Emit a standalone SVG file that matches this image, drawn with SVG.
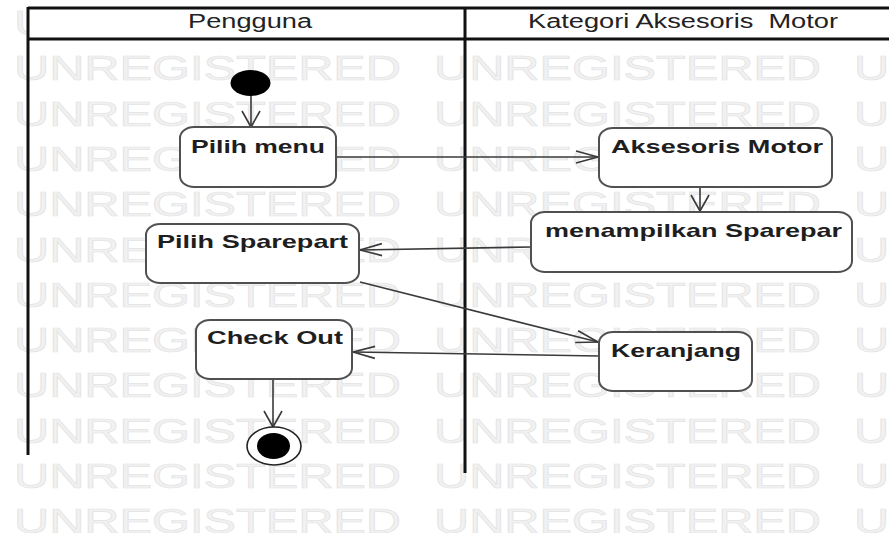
<svg xmlns="http://www.w3.org/2000/svg" xmlns:xlink="http://www.w3.org/1999/xlink" width="889" height="533" viewBox="0 0 889 533">
  <style>
    .wm { font-family: "Liberation Sans", Arial, sans-serif; font-size: 35px; fill: #f1f1f1; stroke: #e4e4e4; stroke-width: 0.7; }
    .lane { stroke: #111; stroke-width: 3; fill: none; }
    .hdr { font-family: "Liberation Sans", Arial, sans-serif; font-size: 19.5px; fill: #222; }
    .act { fill: #fff; stroke: #505050; stroke-width: 2; }
    .lbl { font-family: "Liberation Sans", Arial, sans-serif; font-size: 19px; font-weight: bold; fill: #1e1e1e; }
    .edge { stroke: #3a3a3a; stroke-width: 1.6; fill: none; }
  </style>
  <defs>
    <text id="wmword" class="wm" textLength="387" lengthAdjust="spacingAndGlyphs">UNREGISTERED</text>
    <marker id="ah" viewBox="-24 -8 26 16" refX="0" refY="0" markerWidth="26" markerHeight="16" orient="auto" markerUnits="userSpaceOnUse">
      <path d="M-22,-6 L0,0 L-22,6" fill="none" stroke="#3a3a3a" stroke-width="1.6"/>
    </marker>
    <marker id="av" viewBox="-18 -11 20 22" refX="0" refY="0" markerWidth="20" markerHeight="22" orient="auto" markerUnits="userSpaceOnUse">
      <path d="M-16,-9 L0,0 L-16,9" fill="none" stroke="#3a3a3a" stroke-width="1.6"/>
    </marker>
  </defs>

  <rect width="889" height="533" fill="#fff"/>

  <!-- watermark rows -->
  <g id="watermark">
    <use xlink:href="#wmword" x="14" y="35"/><use xlink:href="#wmword" x="434" y="35"/><use xlink:href="#wmword" x="854" y="35"/>
    <use xlink:href="#wmword" x="14" y="80.3"/><use xlink:href="#wmword" x="434" y="80.3"/><use xlink:href="#wmword" x="854" y="80.3"/>
    <use xlink:href="#wmword" x="14" y="125.6"/><use xlink:href="#wmword" x="434" y="125.6"/><use xlink:href="#wmword" x="854" y="125.6"/>
    <use xlink:href="#wmword" x="14" y="170.9"/><use xlink:href="#wmword" x="434" y="170.9"/><use xlink:href="#wmword" x="854" y="170.9"/>
    <use xlink:href="#wmword" x="14" y="216.2"/><use xlink:href="#wmword" x="434" y="216.2"/><use xlink:href="#wmword" x="854" y="216.2"/>
    <use xlink:href="#wmword" x="14" y="261.5"/><use xlink:href="#wmword" x="434" y="261.5"/><use xlink:href="#wmword" x="854" y="261.5"/>
    <use xlink:href="#wmword" x="14" y="306.8"/><use xlink:href="#wmword" x="434" y="306.8"/><use xlink:href="#wmword" x="854" y="306.8"/>
    <use xlink:href="#wmword" x="14" y="352.1"/><use xlink:href="#wmword" x="434" y="352.1"/><use xlink:href="#wmword" x="854" y="352.1"/>
    <use xlink:href="#wmword" x="14" y="397.4"/><use xlink:href="#wmword" x="434" y="397.4"/><use xlink:href="#wmword" x="854" y="397.4"/>
    <use xlink:href="#wmword" x="14" y="442.7"/><use xlink:href="#wmword" x="434" y="442.7"/><use xlink:href="#wmword" x="854" y="442.7"/>
    <use xlink:href="#wmword" x="14" y="488"/><use xlink:href="#wmword" x="434" y="488"/><use xlink:href="#wmword" x="854" y="488"/>
    <use xlink:href="#wmword" x="14" y="533.3"/><use xlink:href="#wmword" x="434" y="533.3"/><use xlink:href="#wmword" x="854" y="533.3"/>
  </g>

  <!-- swimlanes -->
  <g id="swimlanes">
    <rect x="28" y="8" width="870" height="31" fill="#fff"/>
    <line class="lane" x1="28" y1="8" x2="889" y2="8"/>
    <line class="lane" x1="28" y1="39" x2="889" y2="39"/>
    <line class="lane" x1="28" y1="7" x2="28" y2="455"/>
    <line class="lane" x1="465" y1="7" x2="465" y2="473"/>
    <text class="hdr" x="188" y="28" textLength="124" lengthAdjust="spacingAndGlyphs">Pengguna</text>
    <text class="hdr" x="528" y="28" textLength="310" lengthAdjust="spacingAndGlyphs" xml:space="preserve">Kategori Aksesoris  Motor</text>
  </g>

  <!-- connectors -->
  <g id="connectors">
    <line class="edge" x1="251" y1="96" x2="251" y2="127" marker-end="url(#av)"/>
    <line class="edge" x1="336" y1="157" x2="598" y2="157" marker-end="url(#ah)"/>
    <line class="edge" x1="700" y1="187" x2="700" y2="211" marker-end="url(#av)"/>
    <line class="edge" x1="531" y1="247" x2="360" y2="250" marker-end="url(#ah)"/>
    <line class="edge" x1="360" y1="282" x2="598" y2="342" marker-end="url(#ah)"/>
    <line class="edge" x1="599" y1="356" x2="353" y2="352" marker-end="url(#ah)"/>
    <line class="edge" x1="273" y1="379" x2="273" y2="427" marker-end="url(#av)"/>
  </g>

  <!-- nodes -->
  <g id="start">
    <ellipse cx="250.5" cy="83" rx="20" ry="13" fill="#000"/>
  </g>
  <g id="pilih-menu">
    <rect class="act" x="180" y="127" width="156" height="60" rx="14" ry="11"/>
    <text class="lbl" x="191" y="153" textLength="134" lengthAdjust="spacingAndGlyphs">Pilih menu</text>
  </g>
  <g id="aksesoris-motor">
    <rect class="act" x="599" y="128" width="233" height="59" rx="14" ry="11"/>
    <text class="lbl" x="611" y="153" textLength="212" lengthAdjust="spacingAndGlyphs">Aksesoris Motor</text>
  </g>
  <g id="menampilkan-sparepar">
    <rect class="act" x="531" y="212" width="321" height="60" rx="14" ry="11"/>
    <text class="lbl" x="545" y="237" textLength="297" lengthAdjust="spacingAndGlyphs">menampilkan Sparepar</text>
  </g>
  <g id="pilih-sparepart">
    <rect class="act" x="146" y="224" width="213" height="59" rx="14" ry="11"/>
    <text class="lbl" x="157" y="248" textLength="191" lengthAdjust="spacingAndGlyphs">Pilih Sparepart</text>
  </g>
  <g id="keranjang">
    <rect class="act" x="599" y="332" width="153" height="59" rx="14" ry="11"/>
    <text class="lbl" x="611" y="357" textLength="130" lengthAdjust="spacingAndGlyphs">Keranjang</text>
  </g>
  <g id="check-out">
    <rect class="act" x="196" y="320" width="156" height="59" rx="14" ry="11"/>
    <text class="lbl" x="207" y="344" textLength="136" lengthAdjust="spacingAndGlyphs">Check Out</text>
  </g>
  <g id="end">
    <ellipse cx="274" cy="446" rx="27" ry="19" fill="#fff" stroke="#222" stroke-width="1.6"/>
    <ellipse cx="273.5" cy="446" rx="16.5" ry="13" fill="#000"/>
  </g>
</svg>
